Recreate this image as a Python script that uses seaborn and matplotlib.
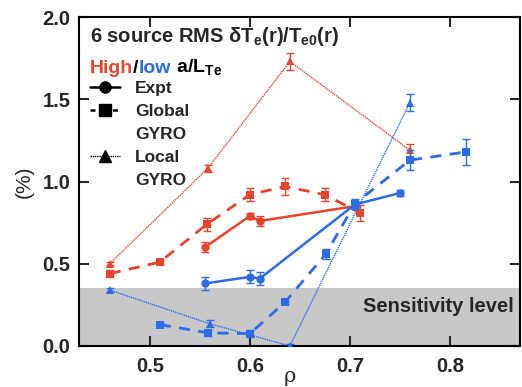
import numpy as np
import pandas as pd
import seaborn as sns
import matplotlib.pyplot as plt
from matplotlib.lines import Line2D

RED = '#e8432c'
BLUE = '#2c6ce8'

# --- data (rho, RMS %, error) ---
rho_red_expt = [0.555, 0.600, 0.610, 0.705]
val_red_expt = [0.60, 0.79, 0.76, 0.85]
err_red_expt = [0.03, 0.02, 0.03, 0.02]

rho_red_glob = [0.460, 0.510, 0.557, 0.600, 0.635, 0.675, 0.710]
val_red_glob = [0.44, 0.51, 0.74, 0.92, 0.97, 0.92, 0.81]
err_red_glob = [0.02, 0.01, 0.04, 0.04, 0.05, 0.04, 0.05]

rho_red_loc = [0.460, 0.558, 0.640, 0.760]
val_red_loc = [0.50, 1.08, 1.73, 1.19]
err_red_loc = [0.01, 0.02, 0.05, 0.04]

rho_blue_expt = [0.555, 0.600, 0.610, 0.705, 0.750]
val_blue_expt = [0.38, 0.42, 0.41, 0.86, 0.93]
err_blue_expt = [0.04, 0.04, 0.04, 0.02, 0.02]

rho_blue_glob = [0.510, 0.558, 0.600, 0.635, 0.676, 0.705, 0.760, 0.816]
val_blue_glob = [0.13, 0.08, 0.075, 0.265, 0.56, 0.865, 1.13, 1.18]
err_blue_glob = [0.01, 0.02, 0.02, 0.01, 0.03, 0.03, 0.06, 0.08]

rho_blue_loc = [0.460, 0.560, 0.640, 0.760]
val_blue_loc = [0.34, 0.135, 0.0, 1.48]
err_blue_loc = [0.01, 0.02, 0.01, 0.05]

sensitivity = 0.35

sns.set_style("ticks")
plt.rcParams['font.family'] = ['Liberation Sans', 'DejaVu Sans']
plt.rcParams['font.weight'] = 'bold'
plt.rcParams['mathtext.fontset'] = 'custom'
plt.rcParams['mathtext.rm'] = 'Liberation Sans:bold'
plt.rcParams['mathtext.it'] = 'Liberation Sans:bold'
plt.rcParams['mathtext.bf'] = 'Liberation Sans:bold'

fig = plt.figure(figsize=(5.22, 3.87), dpi=100)
ax = fig.add_axes([0.151, 0.106, 0.845, 0.850])

ax.axhspan(0, sensitivity, color='#c8c8c8', lw=0, zorder=0)

styles = {
    'expt': dict(linestyle='-', marker='o', linewidth=1.8, markersize=6),
    'glob': dict(linestyle=(0, (4, 3)), marker='s', linewidth=2.0, markersize=6),
    'loc': dict(linestyle=(0, (1, 0.6)), marker='^', linewidth=1.0, markersize=6),
}

series = [
    (rho_red_loc, val_red_loc, err_red_loc, RED, 'loc', 2),
    (rho_red_glob, val_red_glob, err_red_glob, RED, 'glob', 2),
    (rho_red_expt, val_red_expt, err_red_expt, RED, 'expt', 2),
    (rho_blue_loc, val_blue_loc, err_blue_loc, BLUE, 'loc', 3),
    (rho_blue_glob, val_blue_glob, err_blue_glob, BLUE, 'glob', 3),
    (rho_blue_expt, val_blue_expt, err_blue_expt, BLUE, 'expt', 3),
]

for x, y, e, c, kind, z in series:
    df = pd.DataFrame({'rho': x, 'rms': y})
    sns.lineplot(data=df, x='rho', y='rms', ax=ax, color=c, sort=False,
                 markeredgewidth=0, zorder=z, **styles[kind])
    ax.errorbar(x, y, yerr=e, fmt='none', ecolor=c, elinewidth=1.0,
                capsize=3, capthick=1.0, zorder=z)

ax.set_xlim(0.429, 0.870)
ax.set_ylim(0, 2.0)
ax.set_xticks([0.5, 0.6, 0.7, 0.8])
ax.set_yticks([0.0, 0.5, 1.0, 1.5, 2.0])
ax.set_xticklabels(['0.5', '0.6', '0.7', '0.8'])
ax.set_yticklabels(['0.0', '0.5', '1.0', '1.5', '2.0'])
ax.tick_params(direction='in', top=True, right=True, length=7, width=1.5,
               labelsize=14.5, pad=6)
ax.tick_params(axis='x', pad=8)
for s in ax.spines.values():
    s.set_linewidth(1.5)
    s.set_color('black')

ax.set_xlabel('ρ', family='DejaVu Serif', fontweight='normal', fontsize=15)
ax.xaxis.set_label_coords(0.478, -0.065)
ax.set_ylabel('(%)', fontsize=15, labelpad=6)

ax.text(0.025, 0.94, r'6 source RMS $\delta T_e(r)/T_{e0}(r)$', transform=ax.transAxes,
        fontsize=14.5, va='center', ha='left')
t1 = ax.text(0.025, 0.83, 'High', transform=ax.transAxes, color=RED,
             fontsize=14, va='baseline', ha='left')
t2 = ax.annotate('/', xy=(1, 0), xycoords=t1, va='bottom', fontsize=14, color='black')
t3 = ax.annotate('low', xy=(1, 0), xycoords=t2, va='bottom', fontsize=14, color=BLUE)
ax.annotate(r' a/L$_{Te}$', xy=(1, 0), xycoords=t3, va='bottom', fontsize=14, color='black')

blank = Line2D([], [], color='none')
handles = [
    Line2D([], [], color='black', lw=1.8, marker='o', markersize=8),
    Line2D([], [], color='black', lw=1.8, ls=(0, (2, 2.5)), marker='s', markersize=8),
    blank,
    Line2D([], [], color='black', lw=1.0, ls=(0, (1, 0.6)), marker='^', markersize=8),
    blank,
]
labels = ['Expt', 'Global', 'GYRO', 'Local', 'GYRO']
ax.legend(handles, labels, loc='upper left', bbox_to_anchor=(0.025, 0.805),
          frameon=False, fontsize=12.5, handlelength=1.75, handletextpad=0.85,
          labelspacing=0.45, borderpad=0, borderaxespad=0)

ax.text(0.985, 0.12, 'Sensitivity level', transform=ax.transAxes, fontsize=14.5,
        ha='right', va='center')

fig.savefig('out.png', dpi=100)
